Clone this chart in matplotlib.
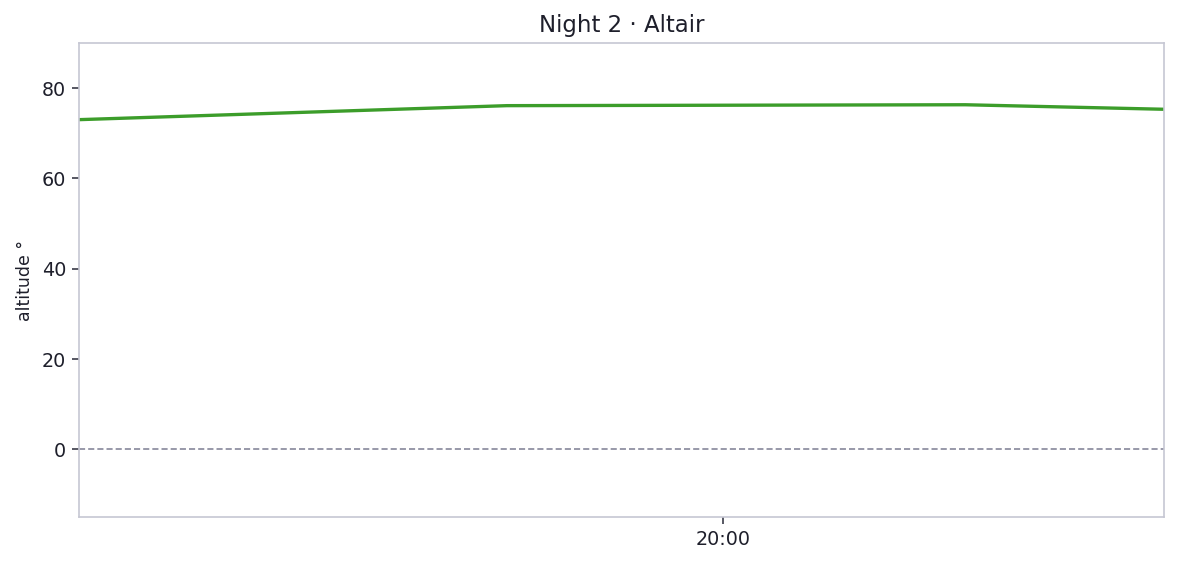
import datetime
import matplotlib
matplotlib.use("Agg")
import matplotlib.pyplot as plt
import matplotlib.dates as mdates

plt.rcParams["font.family"] = ["DejaVu Sans"]

# altitude track for the night
times = ["2024-08-02 18:35:45", "2024-08-02 19:31:45", "2024-08-02 20:31:45", "2024-08-02 20:57:45"]
altitude = [73.0, 76.1, 76.3, 75.3]
tick_times = ["2024-08-02 20:00:00"]

title = "Night 2 · Altair"

fmt = "%Y-%m-%d %H:%M:%S"
t = [datetime.datetime.strptime(s, fmt) for s in times]
ticks = [datetime.datetime.strptime(s, fmt) for s in tick_times]

edge = "#c6c7d3"
text = "#1e1f2b"

fig, ax = plt.subplots(figsize=(11.77, 5.64), dpi=100)
fig.subplots_adjust(left=0.067, right=0.989, top=0.924, bottom=0.083)

ax.plot(t, altitude, color="#3c9d2a", lw=2.4)
ax.axhline(0, color="#7c7d92", lw=1.1, ls="--", dashes=(4, 2))

ax.set_xlim(t[0], t[-1])
ax.set_ylim(-15, 90)
ax.set_yticks([0, 20, 40, 60, 80])
ax.set_xticks(ticks)
ax.xaxis.set_major_formatter(mdates.DateFormatter("%H:%M"))

for s in ax.spines.values():
    s.set_color(edge)
    s.set_linewidth(1.2)
ax.tick_params(colors=text, labelsize=13.8, length=5, width=1.2, pad=4)
ax.tick_params(axis="both", color="#3a3b48")

ax.set_ylabel("altitude °", fontsize=12.5, color=text, labelpad=6)
ax.set_title(title, fontsize=16.5, color=text, pad=8)

plt.savefig("out.png", dpi=100)
